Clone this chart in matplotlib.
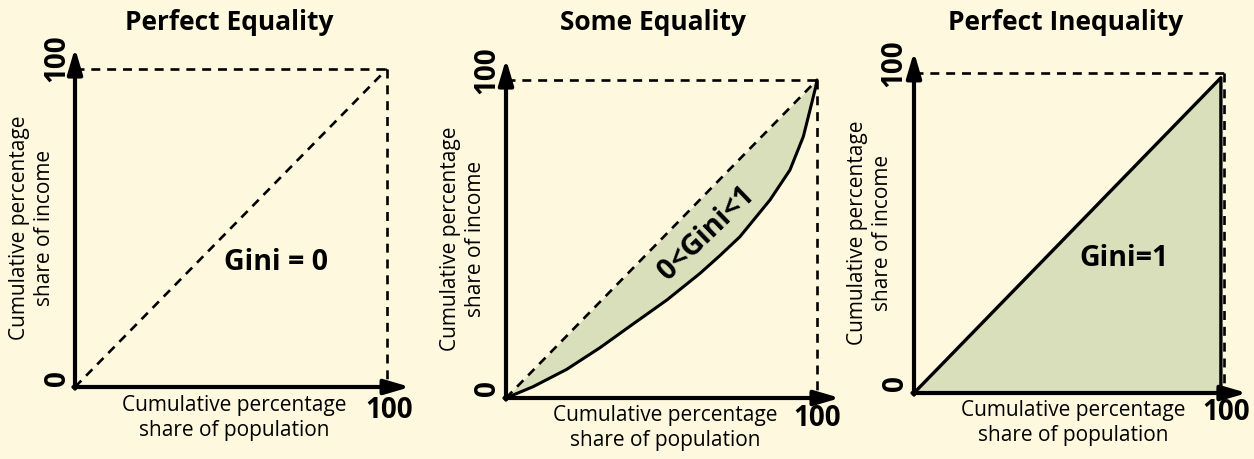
import matplotlib
matplotlib.use("Agg")
import matplotlib.pyplot as plt

plt.rcParams['font.family'] = ['Open Sans', 'DejaVu Sans']

# ---- data ----
titles = ["Perfect Equality", "Some Equality", "Perfect Inequality"]
gini_labels = ["Gini = 0", "0<Gini<1", "Gini=1"]
equality_x = [0, 100]
equality_y = [0, 100]
lorenz_x = [0, 8.8, 19.5, 30.2, 40.9, 51.7, 62.4, 68.8, 75.2, 84.9, 91.3, 95.6, 98.3, 99.5, 100]
lorenz_y = [0, 3.6, 9.0, 15.8, 23.3, 30.8, 39.2, 44.8, 50.7, 62.3, 71.7, 82.2, 92.7, 97.5, 100]
inequal_x = [0, 99, 99]
inequal_y = [0, 98.5, 0]
xlabel = "Cumulative percentage\nshare of population"
ylabel = "Cumulative percentage\nshare of income"
tick_min, tick_max = "0", "100"

W, H = 1254, 459
BG = "#FEF9DE"
FILL = "#D9DFBB"

fig = plt.figure(figsize=(W / 100, H / 100), dpi=100, facecolor=BG)

# panel boxes in pixels: (left, right, top, bottom)
boxes = [(75, 387, 69, 387), (506, 817, 80, 398), (914, 1224, 73, 393)]

def px_ax(box):
    l, r, t, b = box
    return [l / W, 1 - b / H, (r - l) / W, (b - t) / H]

def ftext(x, y, s, **kw):
    fig.text(x / W, 1 - y / H, s, **kw)

dash = dict(color="black", lw=1.9, dashes=(3.4, 2.6))
axes = []
for i, box in enumerate(boxes):
    ax = fig.add_axes(px_ax(box))
    ax.set_xlim(0, 100)
    ax.set_ylim(0, 100)
    ax.axis("off")
    ax.patch.set_alpha(0)
    axes.append(ax)
    # dashed frame
    ax.plot([0, 100], [100, 100], clip_on=False, **dash)
    ax.plot([100, 100], [100, 0], clip_on=False, **dash)
    # axis arrows
    ap = dict(arrowstyle="-|>,head_length=0.95,head_width=0.28", lw=3.0,
              color="black", shrinkA=0, shrinkB=0, mutation_scale=16)
    ax.annotate("", xy=(0, 106.6), xytext=(0, -0.5), arrowprops=ap,
                annotation_clip=False)
    ax.annotate("", xy=(107.4, 0), xytext=(-0.5, 0), arrowprops=ap,
                annotation_clip=False)

# panel 1
a = axes[0]
a.plot(equality_x, equality_y, clip_on=False, **dash)
# panel 2
a = axes[1]
a.fill_between(lorenz_x, lorenz_y, lorenz_x, color=FILL, lw=0)
a.plot(equality_x, equality_y, clip_on=False, **dash)
a.plot(lorenz_x, lorenz_y, color="black", lw=2.2, clip_on=False,
       solid_capstyle="round", solid_joinstyle="round")
# panel 3
a = axes[2]
a.fill(inequal_x, inequal_y, color=FILL, lw=0)
a.plot(inequal_x, inequal_y, color="black", lw=2.4, clip_on=False)

# text
title_pos = [(229, 22), (653, 22), (1066, 22)]
for (x, y), t in zip(title_pos, titles):
    ftext(x, y, t, ha="center", va="center", fontsize=19, fontweight="bold")

ylab_pos = [(32, 228), (463, 239), (870, 233)]
for (x, y) in ylab_pos:
    ftext(x, y, ylabel, ha="center", va="center", rotation=90, fontsize=15,
          linespacing=1.3)
xlab_pos = [(234, 418), (665, 428), (1073, 423)]
for (x, y) in xlab_pos:
    ftext(x, y, xlabel, ha="center", va="center", fontsize=15, linespacing=1.3)

zero_pos = [(58, 378), (488, 388), (896, 383)]
ytop_pos = [(57, 58), (487, 70), (894, 63)]
xend_pos = [(389, 410), (817, 419), (1226, 412)]
for (x, y) in zero_pos:
    ftext(x, y, tick_min, ha="center", va="center", rotation=90, fontsize=20,
          fontweight="bold")
for (x, y) in ytop_pos:
    ftext(x, y, tick_max, ha="center", va="center", rotation=90, fontsize=20,
          fontweight="bold")
for (x, y) in xend_pos:
    ftext(x, y, tick_max, ha="center", va="center", fontsize=20,
          fontweight="bold")

ftext(276, 262, gini_labels[0], ha="center", va="center", fontsize=20.5, fontweight="bold")
ftext(707, 233, gini_labels[1], ha="center", va="center", fontsize=20.5,
      fontweight="bold", rotation=44)
ftext(1124, 258, gini_labels[2], ha="center", va="center", fontsize=20.5, fontweight="bold")

fig.savefig("out.png", dpi=100, facecolor=BG)
